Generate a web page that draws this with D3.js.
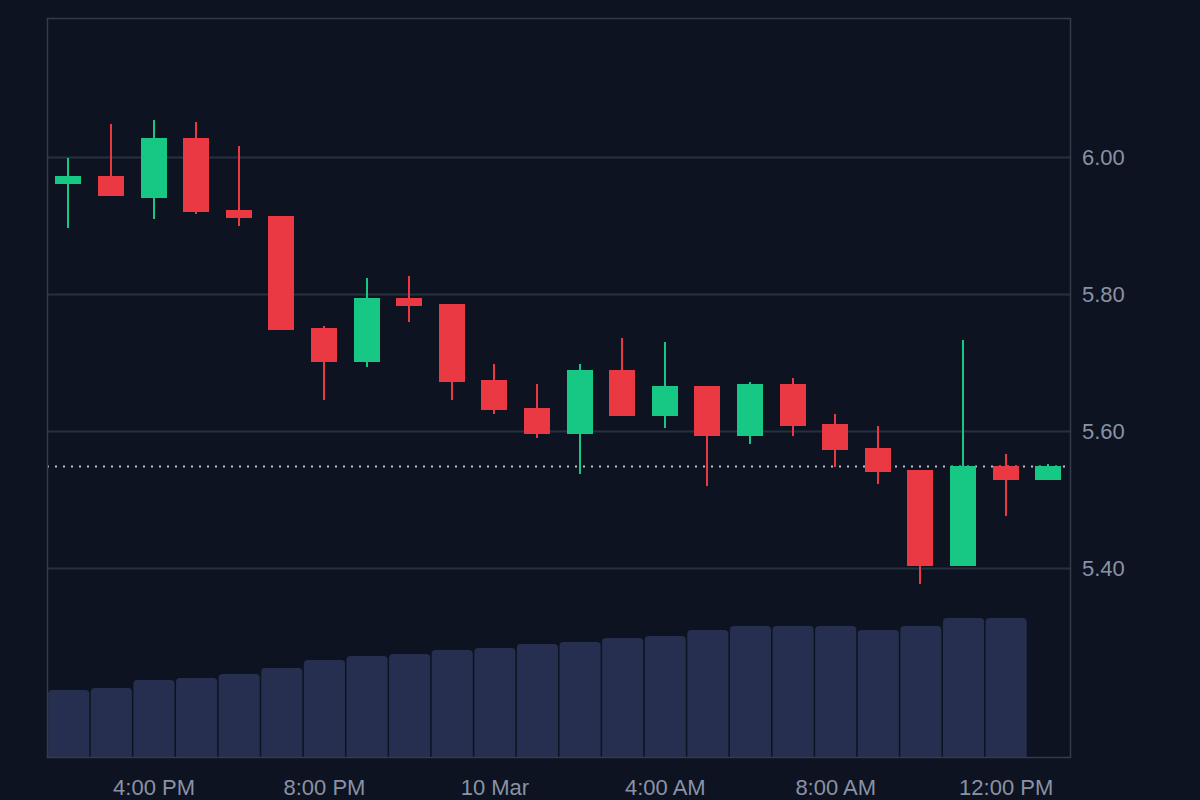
<!DOCTYPE html>
<html>
<head>
<meta charset="utf-8">
<script src="https://cdn.jsdelivr.net/npm/d3@7"></script>
<style>
  html, body { margin: 0; padding: 0; background: #0d1320; }
  svg { display: block; }
  text { font-family: "Liberation Sans", Arial, sans-serif; }
</style>
</head>
<body>
<svg id="chart" width="1200" height="800"></svg>
<script>
// ---- data ----
const times = [
  "2024-03-09T14:00", "2024-03-09T15:00", "2024-03-09T16:00", "2024-03-09T17:00",
  "2024-03-09T18:00", "2024-03-09T19:00", "2024-03-09T20:00", "2024-03-09T21:00",
  "2024-03-09T22:00", "2024-03-09T23:00", "2024-03-10T00:00", "2024-03-10T01:00",
  "2024-03-10T02:00", "2024-03-10T03:00", "2024-03-10T04:00", "2024-03-10T05:00",
  "2024-03-10T06:00", "2024-03-10T07:00", "2024-03-10T08:00", "2024-03-10T09:00",
  "2024-03-10T10:00", "2024-03-10T11:00", "2024-03-10T12:00", "2024-03-10T13:00"
];
const open  = [5.961, 5.972, 5.940, 6.028, 5.923, 5.914, 5.750, 5.701, 5.794, 5.785, 5.674, 5.634,
               5.596, 5.689, 5.622, 5.666, 5.593, 5.669, 5.610, 5.575, 5.543, 5.403, 5.549, 5.528];
const high  = [5.998, 6.048, 6.054, 6.051, 6.016, 5.914, 5.753, 5.823, 5.826, 5.785, 5.698, 5.669,
               5.698, 5.736, 5.730, 5.666, 5.672, 5.677, 5.625, 5.607, 5.543, 5.733, 5.566, 5.552];
const low   = [5.897, 5.943, 5.909, 5.917, 5.899, 5.747, 5.645, 5.693, 5.759, 5.645, 5.625, 5.590,
               5.537, 5.622, 5.604, 5.520, 5.581, 5.593, 5.548, 5.523, 5.377, 5.403, 5.476, 5.528];
const close = [5.972, 5.943, 6.028, 5.920, 5.911, 5.747, 5.701, 5.794, 5.782, 5.672, 5.631, 5.596,
               5.689, 5.622, 5.666, 5.593, 5.669, 5.607, 5.572, 5.540, 5.403, 5.549, 5.528, 5.549];
// volume (thousands) for the first 23 candles
const volume = [670, 690, 770, 790, 830, 890, 970, 1010, 1030, 1070, 1090, 1130,
                1150, 1190, 1210, 1270, 1310, 1310, 1310, 1270, 1310, 1390, 1390];
const priceTicks = [5.40, 5.60, 5.80, 6.00];
const timeTicks = ["2024-03-09T16:00", "2024-03-09T20:00", "2024-03-10T00:00",
                   "2024-03-10T04:00", "2024-03-10T08:00", "2024-03-10T12:00"];
const lastPrice = close[close.length - 1];

// ---- layout ----
const W = 1200, H = 800;
const pLeft = 47, pRight = 1071, pTop = 18, pBottom = 757;
const UP = "#17c784", DOWN = "#ea3943";
const GRID = "#283040", BORDER = "#343b4a", TEXT = "#8a92a6", VOL = "#262f4f";

const parse = d3.timeParse("%Y-%m-%dT%H:%M");
const data = times.map((t, i) => ({
  t: parse(t), o: open[i], h: high[i], l: low[i], c: close[i], v: volume[i]
}));

const svg = d3.select("#chart");
svg.append("rect").attr("width", W).attr("height", H).attr("fill", "#0d1320");

const x = d3.scaleTime()
  .domain([parse("2024-03-09T13:30"), parse("2024-03-10T13:32")])
  .range([pLeft, pRight]);
const y = d3.scaleLinear().domain([5.124, 6.203]).range([pBottom, pTop]);
const yv = d3.scaleLinear().domain([0, 1000]).range([pBottom, pBottom - 100]);

const hourPx = x(parse("2024-03-09T15:00")) - x(parse("2024-03-09T14:00"));

// grid lines
svg.append("g").selectAll("line").data(priceTicks).join("line")
  .attr("x1", pLeft).attr("x2", pRight)
  .attr("y1", d => Math.round(y(d)) + 0.5).attr("y2", d => Math.round(y(d)) + 0.5)
  .attr("stroke", GRID).attr("stroke-width", 2);

// volume bars with rounded tops
const r = 4;
svg.append("g").selectAll("path").data(data.filter(d => d.v != null)).join("path")
  .attr("fill", VOL)
  .attr("d", d => {
    const x0 = x(d.t) - hourPx / 2 + 1.2, x1 = x(d.t) + hourPx / 2 - 0.3;
    const y0 = yv(d.v), y1 = pBottom;
    return `M${x0},${y1}L${x0},${y0 + r}Q${x0},${y0} ${x0 + r},${y0}L${x1 - r},${y0}Q${x1},${y0} ${x1},${y0 + r}L${x1},${y1}Z`;
  });

// last price dotted line
svg.append("line")
  .attr("x1", pLeft).attr("x2", pRight)
  .attr("y1", Math.round(y(lastPrice)) + 0.5).attr("y2", Math.round(y(lastPrice)) + 0.5)
  .attr("stroke", "#b9c0cc").attr("stroke-width", 2)
  .attr("stroke-dasharray", "2,6");

// candles
const bodyW = 26;
const cg = svg.append("g").selectAll("g").data(data).join("g");
cg.append("rect")
  .attr("x", d => Math.round(x(d.t)) - 1)
  .attr("width", 2)
  .attr("y", d => y(d.h))
  .attr("height", d => Math.max(1, y(d.l) - y(d.h)))
  .attr("fill", d => d.c >= d.o ? UP : DOWN)
  .attr("shape-rendering", "crispEdges");
cg.append("rect")
  .attr("x", d => Math.round(x(d.t)) - bodyW / 2)
  .attr("width", bodyW)
  .attr("y", d => y(Math.max(d.o, d.c)))
  .attr("height", d => Math.max(2, Math.abs(y(d.o) - y(d.c))))
  .attr("fill", d => d.c >= d.o ? UP : DOWN)
  .attr("shape-rendering", "crispEdges");

// border
svg.append("rect")
  .attr("x", pLeft + 0.5).attr("y", pTop + 0.5)
  .attr("width", pRight - pLeft - 1).attr("height", pBottom - pTop)
  .attr("fill", "none").attr("stroke", BORDER).attr("stroke-width", 1.5);

// axes
const fmtTime = d => (d.getHours() === 0 && d.getMinutes() === 0)
  ? d3.timeFormat("%-d %b")(d) : d3.timeFormat("%-I:%M %p")(d);

const xAxis = svg.append("g")
  .attr("transform", `translate(0,${pBottom})`)
  .call(d3.axisBottom(x).tickValues(timeTicks.map(parse)).tickFormat(fmtTime).tickSize(0).tickPadding(20));
xAxis.select(".domain").remove();
xAxis.selectAll("text").attr("fill", TEXT).attr("font-size", 22)
  .attr("font-family", "Liberation Sans, Arial, sans-serif")
  .attr("dy", "0.71em").attr("y", 22);

const yAxis = svg.append("g")
  .attr("transform", `translate(${pRight},0)`)
  .call(d3.axisRight(y).tickValues(priceTicks).tickFormat(d3.format(".2f")).tickSize(0).tickPadding(11));
yAxis.select(".domain").remove();
yAxis.selectAll("text").attr("fill", TEXT).attr("font-size", 22)
  .attr("font-family", "Liberation Sans, Arial, sans-serif");
</script>
</body>
</html>
